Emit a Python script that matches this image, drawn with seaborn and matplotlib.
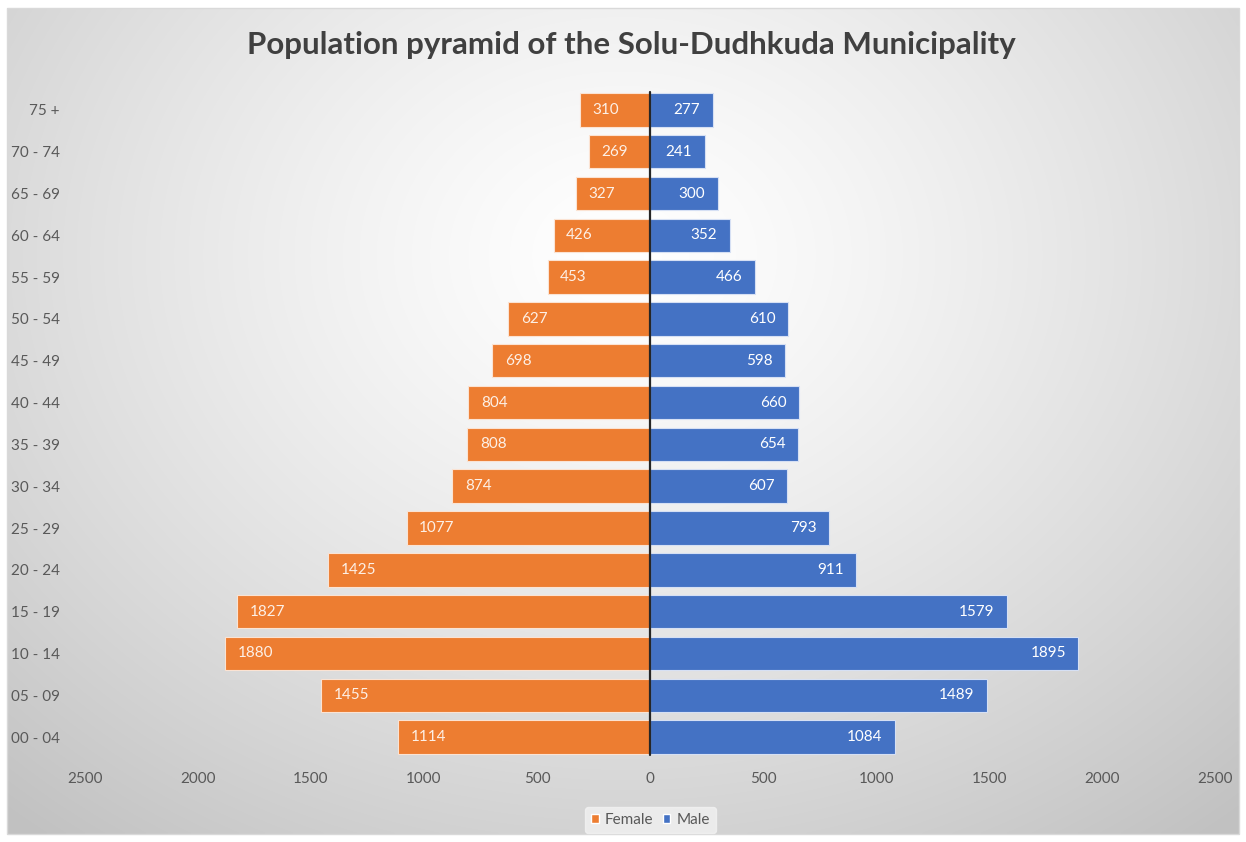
import numpy as np
import pandas as pd
import matplotlib
matplotlib.use("Agg")
import matplotlib.pyplot as plt
import seaborn as sns
from matplotlib.patches import Patch

age_groups = ["75 +", "70 - 74", "65 - 69", "60 - 64", "55 - 59", "50 - 54", "45 - 49",
              "40 - 44", "35 - 39", "30 - 34", "25 - 29", "20 - 24", "15 - 19", "10 - 14",
              "05 - 09", "00 - 04"]
female = [310, 269, 327, 426, 453, 627, 698, 804, 808, 874, 1077, 1425, 1827, 1880, 1455, 1114]
male = [277, 241, 300, 352, 466, 610, 598, 660, 654, 607, 793, 911, 1579, 1895, 1489, 1084]
x_ticks = [-2500, -2000, -1500, -1000, -500, 0, 500, 1000, 1500, 2000, 2500]

sns.set_theme(style="white")
plt.rcParams['font.family'] = ['Lato', 'DejaVu Sans']

df = pd.DataFrame({
    "age": age_groups * 2,
    "value": [-v for v in female] + male,
    "sex": ["Female"] * len(female) + ["Male"] * len(male),
})

fig = plt.figure(figsize=(12.46, 8.42), dpi=100)
fig.patch.set_facecolor("white")

# background radial gradient
bg = fig.add_axes([0.006, 0.009, 0.988, 0.982], zorder=0)
gx, gy = np.meshgrid(np.linspace(0, 1, 400), np.linspace(0, 1, 300))
r = np.sqrt(((gx - 0.5) / 0.75) ** 2 + ((gy - 0.3) / 0.9) ** 2)
r = np.clip(r, 0, 1)
col = 1.0 - 0.24 * r ** 1.3
img = np.dstack([col, col, col])
bg.imshow(img, aspect="auto", extent=[0, 1, 1, 0], interpolation="bilinear")
bg.set_axis_off()
fig.add_artist(plt.Rectangle((0.006, 0.009), 0.988, 0.982, transform=fig.transFigure,
                             fill=False, edgecolor="#d9d9d9", lw=1))

ax = fig.add_axes([0.0682, 0.0998, 0.907, 0.7945], zorder=1)
ax.patch.set_alpha(0)
palette = {"Female": "#ED7D31", "Male": "#4472C4"}
sns.barplot(data=df, y="age", x="value", hue="sex", order=age_groups,
            hue_order=["Female", "Male"], palette=palette, dodge=False,
            orient="h", width=0.8, saturation=1, ax=ax, legend=False)
for p in ax.patches:
    p.set_edgecolor("#fbe3d3" if p.get_width() < 0 else "#d6e0f4")
    p.set_linewidth(0.8)

ax.set_xlim(-2500, 2500)
ax.set_ylim(len(age_groups) - 0.5, -0.5)
ax.set_xticks(x_ticks)
ax.set_xticklabels([str(abs(t)) for t in x_ticks], fontsize=11, color="#595959")
ax.tick_params(axis="y", labelsize=11, labelcolor="#595959", pad=18, length=0)
ax.tick_params(axis="x", pad=10, length=0)
ax.set_xlabel("")
ax.set_ylabel("")
for s in ["top", "bottom", "left", "right"]:
    ax.spines[s].set_visible(False)
ax.axvline(0, color="#262626", lw=1.6, ymin=0.005, ymax=0.995, zorder=5)

for p in ax.patches:
    w = p.get_width()
    if w == 0:
        continue
    yc = p.get_y() + p.get_height() / 2
    if w < 0:
        ax.annotate(f"{int(round(-w))}", (w, yc), xytext=(9, 0), textcoords="offset points",
                    ha="left", va="center", color="#fdf0e6", fontsize=11)
    else:
        ax.annotate(f"{int(round(w))}", (w, yc), xytext=(-9, 0), textcoords="offset points",
                    ha="right", va="center", color="white", fontsize=11)

fig.text(0.507, 0.946, "Population pyramid of the Solu-Dudhkuda Municipality",
         ha="center", va="center", fontsize=22.5, fontweight="bold", color="#404040")

handles = [Patch(facecolor=palette["Female"], label="Female"),
           Patch(facecolor=palette["Male"], label="Male")]
leg = fig.legend(handles=handles, loc="center", bbox_to_anchor=(0.522, 0.026), ncol=2,
                 frameon=True, fontsize=11, handlelength=0.5, handleheight=0.5,
                 handletextpad=0.4, columnspacing=0.6, borderpad=0.4)
leg.get_frame().set_facecolor("#f2f2f2")
leg.get_frame().set_edgecolor("#f2f2f2")
for t in leg.get_texts():
    t.set_color("#595959")

fig.savefig("out.png", dpi=100)
